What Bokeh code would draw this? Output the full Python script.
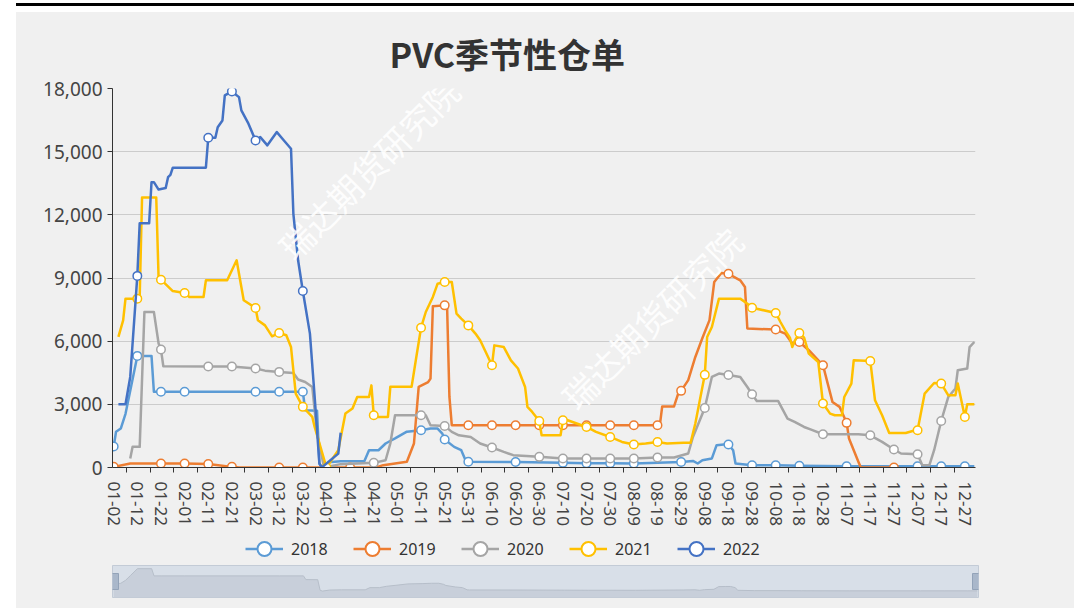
import pandas as pd
from bokeh.plotting import figure
from bokeh.models import (Range1d, FixedTicker, NumeralTickFormatter, Legend,
                          LegendItem, Label, Div, Title)
from bokeh.layouts import column, row
from bokeh.embed import file_html
from bokeh.resources import INLINE

# ---- categories (daily, leap-year calendar, 01-02 .. 12-31) ----
dates = pd.date_range("2020-01-02", "2020-12-31", freq="D")
categories = [d.strftime("%m-%d") for d in dates]
label_step = 10

years = ["2018", "2019", "2020", "2021", "2022"]
colors = ["#5B9BD5", "#ED7D31", "#A5A5A5", "#FFC000", "#4472C4"]

# ---- series: (category index, value) breakpoints ----
x2018 = [0, 1, 3, 5, 7, 10, 16, 17, 20, 30, 60, 70, 80, 81, 86, 87, 88, 91, 96, 106, 108, 112,
         115, 119, 124, 130, 134, 137, 139, 140, 144, 147, 149, 150, 170, 190, 200, 210, 220,
         240, 245, 247, 249, 253, 255, 258, 260, 262, 263, 270, 280, 290, 310, 340, 350, 360, 364]
v2018 = [1000, 1700, 1850, 2550, 3650, 5300, 5300, 3600, 3600, 3600, 3600, 3600, 3600, 2720, 2700,
         200, 0, 250, 300, 300, 820, 820, 1140, 1380, 1700, 1770, 1850, 1850, 1610, 1330, 980, 820,
         300, 270, 260, 220, 200, 200, 190, 265, 310, 190, 345, 430, 1060, 1090, 1090, 820, 190,
         110, 110, 80, 60, 60, 60, 60, 60]

x2019 = [0, 7, 20, 30, 40, 50, 53, 70, 80, 100, 111, 114, 124, 127, 129, 133, 134, 135, 140, 141,
         142, 143, 150, 160, 170, 180, 190, 200, 210, 220, 230, 231, 232, 237, 239, 240, 243, 246,
         249, 252, 254, 257, 260, 265, 267, 268, 280, 284, 287, 290, 294, 300, 302, 304, 307, 310,
         311, 315, 316, 330]
v2019 = [30, 190, 190, 190, 170, 30, 0, 0, 0, 0, 0, 110, 270, 1140, 3830, 4060, 4220, 7660, 7700,
         7700, 3350, 2010, 2010, 2010, 2010, 2010, 2010, 2010, 2010, 2010, 2010, 2010, 2900, 2900,
         3590, 3640, 4150, 5250, 6150, 7000, 8810, 9240, 9200, 8890, 8570, 6600, 6550, 6360, 5890,
         5960, 5570, 4855, 3985, 3115, 2880, 2120, 1375, 265, 0, 0]

x2020 = [7, 8, 11, 13, 17, 19, 20, 21, 40, 50, 60, 64, 70, 76, 78, 81, 84, 86, 89, 96, 110, 115,
         117, 119, 130, 132, 134, 140, 143, 146, 151, 155, 160, 165, 169, 180, 190, 200, 210, 220,
         230, 237, 243, 245, 250, 253, 256, 260, 265, 268, 270, 272, 281, 285, 288, 292, 295, 300,
         315, 320, 325, 330, 333, 340, 342, 345, 347, 350, 353, 356, 357, 361, 362, 364]
v2020 = [430, 980, 980, 7390, 7390, 5890, 5600, 4810, 4800, 4800, 4700, 4600, 4540, 4490, 4180,
         4060, 3825, 1610, 0, 160, 220, 345, 1140, 2480, 2480, 2480, 2010, 1975, 1690, 1530, 1450,
         1140, 950, 740, 585, 505, 430, 430, 430, 430, 475, 475, 665, 1450, 2830, 4300, 4460, 4395,
         4300, 3825, 3480, 3160, 3160, 2325, 2165, 1925, 1800, 1580, 1580, 1530, 1215, 855, 665,
         630, 110, 110, 820, 2210, 3350, 3750, 4620, 4700, 5720, 5960]

x2021 = [2, 4, 5, 10, 11, 12, 18, 19, 20, 25, 30, 32, 38, 39, 48, 52, 54, 55, 60, 61, 64, 67, 70,
         73, 75, 77, 80, 84, 85, 90, 95, 98, 101, 103, 108, 109, 110, 112, 116, 117, 126, 128, 130,
         132, 135, 137, 140, 143, 145, 147, 150, 153, 155, 158, 160, 161, 165, 168, 171, 174, 175,
         177, 180, 181, 189, 190, 192, 200, 204, 210, 215, 220, 225, 230, 234, 241, 244, 246, 250,
         251, 253, 256, 265, 268, 270, 280, 282, 284, 286, 287, 288, 290, 292, 294, 298, 300, 303,
         305, 308, 309, 312, 313, 320, 322, 325, 328, 335, 339, 340, 343, 347, 350, 353, 356, 357,
         360, 361, 364]
v2021 = [6200, 6990, 8020, 8020, 8100, 12820, 12820, 8970, 8920, 8380, 8290, 8100, 8100, 8890,
         8890, 9840, 8570, 7940, 7575, 6990, 6750, 6230, 6390, 6280, 5720, 3510, 2880, 2400, 1925,
         0, 820, 2560, 2800, 3350, 3350, 3900, 2480, 2400, 2400, 3830, 3830, 5250, 6640, 7385, 8100,
         8730, 8810, 8810, 7310, 7070, 6750, 6360, 6040, 5330, 4855, 5800, 5720, 5090, 4700, 3825,
         2880, 2640, 2210, 1530, 1530, 2245, 2245, 1925, 1690, 1450, 1215, 1090, 1140, 1215, 1140,
         1170, 1170, 2090, 4400, 6200, 6670, 8020, 8020, 7780, 7590, 7340, 6910, 6515, 6170, 5720,
         6000, 6390, 6170, 5410, 5010, 3040, 2560, 2480, 2480, 3350, 3985, 5090, 5060, 3195, 2480,
         1640, 1640, 1770, 1770, 3510, 4015, 3985, 3430, 3430, 3985, 2400, 3000, 3000]

x2022 = [2, 5, 7, 10, 11, 15, 16, 17, 19, 22, 23, 24, 25, 39, 40, 43, 44, 46, 47, 50, 53, 54, 57,
         60, 62, 65, 69, 72, 75, 76, 78, 80, 83, 85, 87, 88, 95, 96]
v2022 = [3000, 3000, 4300, 9100, 11600, 11600, 13550, 13550, 13200, 13270, 13790, 13900, 14240,
         14240, 15660, 15660, 16160, 16480, 17670, 17860, 17590, 16960, 16330, 15530, 15690,
         15300, 15930, 15530, 15140, 12050, 9840, 8380, 6360, 3350, 190, 0, 660, 1650]

series_x = [x2018, x2019, x2020, x2021, x2022]
series_v = [v2018, v2019, v2020, v2021, v2022]

y_ticks = [0, 3000, 6000, 9000, 12000, 15000, 18000]

BG = "#f0f0f0"
FONT = "Noto Sans"
CJK = "Noto Sans CJK SC"
n = len(categories)
W = 1058  # width of the grey panel (page starts at x=16)

p = figure(frame_width=863, frame_height=379,
           min_border_left=95, min_border_right=100, min_border_top=76, min_border_bottom=63,
           x_range=Range1d(-0.5, n - 0.5), y_range=Range1d(0, 18000),
           output_backend="svg", toolbar_location=None,
           background_fill_color=BG, border_fill_color=BG, outline_line_color=None)

p.add_layout(Title(text="PVC季节性仓单", align="left", offset=277, standoff=22,
                   text_font=CJK, text_font_size="34px", text_font_style="bold",
                   text_color="#333333"), "above")

# axes
major = list(range(0, n, label_step))
minor = [i + 5.5 for i in range(0, n - 5, label_step)]
p.xaxis.ticker = FixedTicker(ticks=major, minor_ticks=minor)
p.xaxis.major_label_overrides = {i: categories[i] for i in major}
p.xaxis.major_label_orientation = "vertical"
p.xaxis.major_tick_out = 0
p.xaxis.major_tick_in = 0
p.xaxis.minor_tick_out = 5
p.xaxis.minor_tick_in = 0
p.xaxis.minor_tick_line_color = "#333333"
p.xaxis.axis_line_color = "#333333"
p.xaxis.major_label_standoff = 9
p.xaxis.major_label_text_font = FONT
p.xaxis.major_label_text_font_size = "17px"
p.xaxis.major_label_text_color = "#444444"

p.yaxis.ticker = FixedTicker(ticks=y_ticks)
p.yaxis.formatter = NumeralTickFormatter(format="0,0")
p.yaxis.minor_tick_line_color = None
p.yaxis.major_tick_out = 5
p.yaxis.major_tick_in = 0
p.yaxis.axis_line_color = "#333333"
p.yaxis.major_tick_line_color = "#333333"
p.yaxis.major_label_standoff = 5
p.yaxis.major_label_text_font = FONT
p.yaxis.major_label_text_font_size = "19px"
p.yaxis.major_label_text_color = "#444444"

p.xgrid.grid_line_color = None
p.ygrid.grid_line_color = "#cccccc"
p.ygrid.grid_line_width = 1

# watermarks
for wx, wy in [(107.7, 14205), (227.5, 7086)]:
    p.add_layout(Label(x=wx, y=wy, text="瑞达期货研究院", angle=45, angle_units="deg",
                       text_align="center", text_baseline="middle",
                       text_font=CJK, text_font_size="34px",
                       text_color="white", text_alpha=0.9))

# series
for c, xs, vs in zip(colors, series_x, series_v):
    p.line(xs, vs, line_width=2.5, line_color=c, line_join="round")
    mx = [x for x in xs if x % 10 == 0]
    mv = [v for x, v in zip(xs, vs) if x % 10 == 0]
    p.scatter(mx, mv, size=8.5, marker="circle", fill_color="white", line_color=c,
              line_width=1.5)

# ---- legend strip ----
lg = figure(width=W, height=33, min_border=0, x_range=Range1d(0, 1), y_range=Range1d(0, 1),
            x_axis_location=None, y_axis_location=None,
            output_backend="svg", toolbar_location=None,
            background_fill_color=BG, border_fill_color=BG, outline_line_color=None)
lg.xgrid.grid_line_color = None
lg.ygrid.grid_line_color = None
items = []
for yr, c in zip(years, colors):
    lr = lg.line([-5, -4], [-5, -5], line_width=2.5, line_color=c)
    sr = lg.scatter([-5], [-5], size=15, marker="circle", fill_color="white", line_color=c,
                    line_width=2)
    items.append(LegendItem(label=yr, renderers=[lr, sr]))
legend = Legend(items=items, orientation="horizontal", location=(133, -3),
                glyph_width=38, glyph_height=35, label_width=50, spacing=12,
                label_standoff=8, padding=0, margin=0, border_line_color=None,
                background_fill_alpha=0, label_text_font=FONT,
                label_text_font_size="16px", label_text_color="#333333")
lg.add_layout(legend)

# ---- data-zoom slider (with 2018 data shadow) ----
s = figure(frame_width=866, frame_height=32,
           min_border_left=96, min_border_right=96, min_border_top=2, min_border_bottom=11,
           x_range=Range1d(-0.5, n - 0.5), y_range=Range1d(0, 1),
           x_axis_location=None, y_axis_location=None,
           output_backend="svg", toolbar_location=None,
           background_fill_color="#d8dfe8", border_fill_color=BG,
           outline_line_color="#c3cbd6")
s.xgrid.grid_line_color = None
s.ygrid.grid_line_color = None
vmax = max(v2018)
shadow = [0.2 + 0.7 * v / vmax for v in v2018]
s.varea(x=x2018, y1=0, y2=shadow, fill_color="#c6cdd8", fill_alpha=0.9)
s.line(x2018, shadow, line_color="#b6bec9", line_width=1)
s.rect(x=[-0.5, n - 0.5], y=[0.5, 0.5], width=12, height=16, width_units="screen",
       height_units="screen", fill_color="#a9b7ca", line_color="#93a3b8")

top_bar = Div(text="", width=W, height=12, margin=0,
              styles={"background": "linear-gradient(to bottom, #ffffff 0px, #ffffff 3px, "
                                    "#000000 3px, #000000 6px, #ffffff 6px, #ffffff 12px)"})
left_pad = Div(text="", width=16, height=611, margin=0, styles={"background": "#ffffff"})

inner = column(top_bar, p, lg, s, spacing=0, styles={"background": BG})
layout = row(left_pad, inner, spacing=0)
open("out.html", "w").write(file_html(layout, INLINE))
